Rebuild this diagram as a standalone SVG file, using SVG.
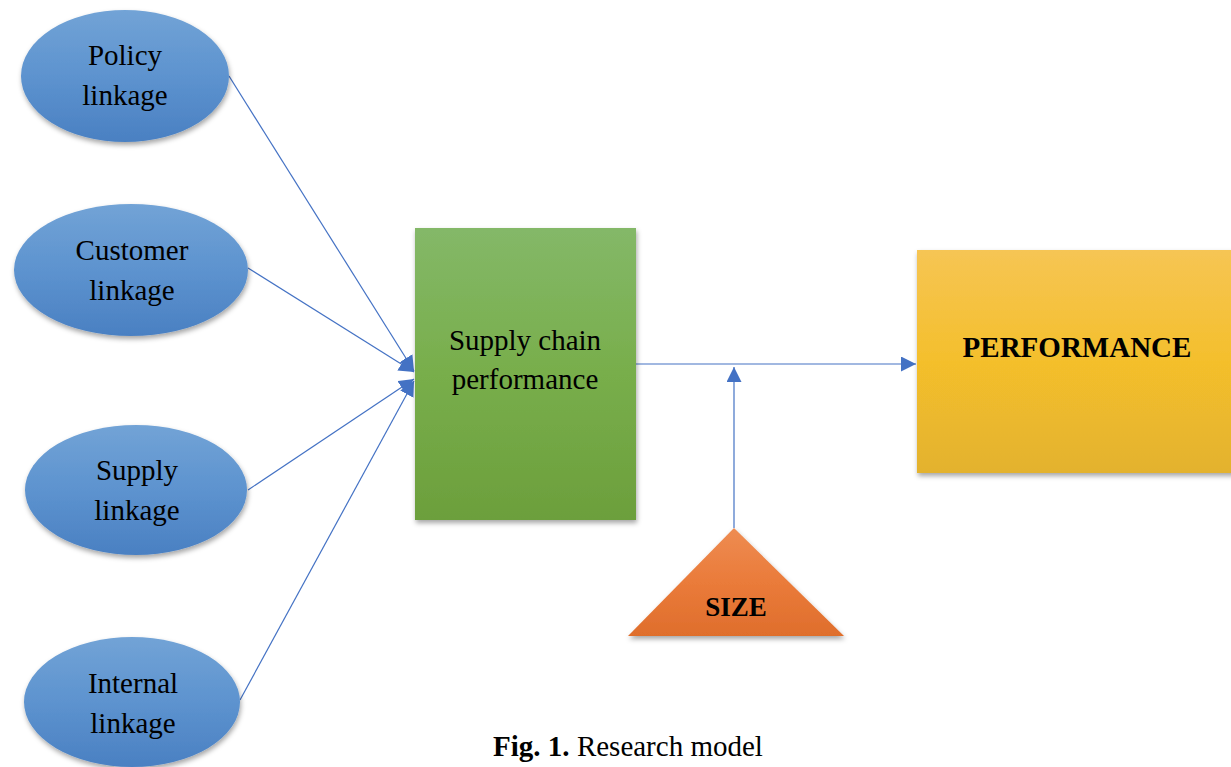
<svg xmlns="http://www.w3.org/2000/svg" width="1231" height="767" viewBox="0 0 1231 767">
<defs>
<linearGradient id="gBlue" x1="0" y1="0" x2="0" y2="1"><stop offset="0" stop-color="#72a3d6"/><stop offset="0.5" stop-color="#5d93cf"/><stop offset="1" stop-color="#4a80c2"/></linearGradient>
<linearGradient id="gGreen" x1="0" y1="0" x2="0" y2="1"><stop offset="0" stop-color="#84b868"/><stop offset="0.5" stop-color="#78ae4b"/><stop offset="1" stop-color="#6c9f3c"/></linearGradient>
<linearGradient id="gYellow" x1="0" y1="0" x2="0" y2="1"><stop offset="0" stop-color="#f6c554"/><stop offset="0.5" stop-color="#f4bf2c"/><stop offset="1" stop-color="#e3b22e"/></linearGradient>
<linearGradient id="gOrange" x1="0" y1="0" x2="0" y2="1"><stop offset="0" stop-color="#ee8c52"/><stop offset="0.5" stop-color="#ea7b3a"/><stop offset="1" stop-color="#df6e2c"/></linearGradient>
<filter id="sh" x="-20%" y="-20%" width="140%" height="140%"><feDropShadow dx="1" dy="3" stdDeviation="2.5" flood-color="#000" flood-opacity="0.35"/></filter>
<marker id="arr" viewBox="0 0 10 10" refX="10" refY="5" markerWidth="15" markerHeight="15" markerUnits="userSpaceOnUse" orient="auto"><path d="M0,0 L10,5 L0,10 Z" fill="#4472c4"/></marker>
</defs>
<style>
.t{font-family:"Liberation Serif","Times New Roman",serif;font-size:29px;fill:#000;text-anchor:middle}
.b{font-weight:bold}
.c{stroke:#4472c4;stroke-width:1.2;fill:none}
</style>
<rect width="1231" height="767" fill="#fff"/>
<g id="connectors">
<line class="c" x1="229" y1="76" x2="414" y2="371" marker-end="url(#arr)"/>
<line class="c" x1="248" y1="268" x2="414" y2="372" marker-end="url(#arr)"/>
<line class="c" x1="248" y1="490" x2="414" y2="379" marker-end="url(#arr)"/>
<line class="c" x1="240" y1="700" x2="414" y2="381" marker-end="url(#arr)"/>
<line class="c" x1="636" y1="364" x2="916" y2="364" marker-end="url(#arr)"/>
<line class="c" x1="734" y1="528" x2="734" y2="367" marker-end="url(#arr)"/>
</g>
<g id="policy"><ellipse cx="125" cy="76" rx="104" ry="66" fill="url(#gBlue)" filter="url(#sh)"/><text class="t" x="125" y="65">Policy</text><text class="t" x="125" y="105">linkage</text></g>
<g id="customer"><ellipse cx="131" cy="270" rx="117" ry="66" fill="url(#gBlue)" filter="url(#sh)"/><text class="t" x="132" y="260">Customer</text><text class="t" x="132" y="300">linkage</text></g>
<g id="supply"><ellipse cx="136" cy="490" rx="111" ry="65" fill="url(#gBlue)" filter="url(#sh)"/><text class="t" x="137" y="480">Supply</text><text class="t" x="137" y="520">linkage</text></g>
<g id="internal"><ellipse cx="132" cy="702" rx="108" ry="65" fill="url(#gBlue)" filter="url(#sh)"/><text class="t" x="133" y="693">Internal</text><text class="t" x="133" y="733">linkage</text></g>
<g id="scp"><rect x="415" y="228" width="221" height="292" fill="url(#gGreen)" filter="url(#sh)"/><text class="t" x="525" y="350">Supply chain</text><text class="t" x="525" y="389">performance</text></g>
<g id="performance"><rect x="917" y="250" width="320" height="223" fill="url(#gYellow)" filter="url(#sh)"/><text class="t b" x="1077" y="357">PERFORMANCE</text></g>
<g id="size"><polygon points="734,528 844,636 628,636" fill="url(#gOrange)" filter="url(#sh)"/><text class="t b" x="736" y="616" style="font-size:27px">SIZE</text></g>
<text class="t" x="628" y="756"><tspan class="b">Fig. 1.</tspan> Research model</text>
</svg>
